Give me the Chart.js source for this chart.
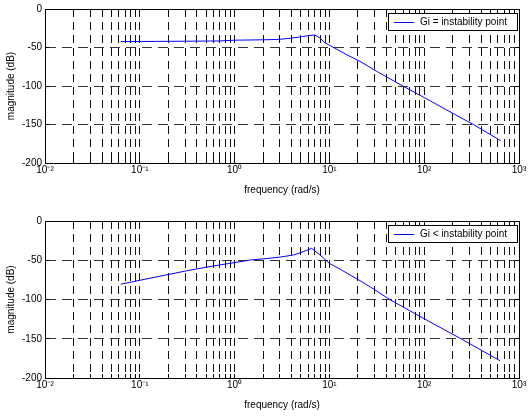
<!DOCTYPE html>
<html lang="en">
<head>
<meta charset="UTF-8">
<title>Bode magnitude</title>
<script src="https://cdn.jsdelivr.net/npm/chart.js"></script>
<style>
  body { margin: 0; padding: 0; background: #fff; }
  canvas { display: block; }
</style>
</head>
<body>
<canvas id="chartTop" width="529" height="208"></canvas>
<canvas id="chartBottom" width="529" height="209"></canvas>
<script>
// top plot: Gi = instability point
const freqTop = [0.063, 0.2, 0.7, 1, 2, 2.9, 3.9, 5.1, 6, 7, 8, 9, 10, 15, 21, 31.6, 55.6, 107, 211, 330, 640];
const magTop  = [-42.3, -42, -41.5, -40.5, -40, -39.5, -38, -36, -34.5, -33.8, -38, -44, -47, -59, -68, -81, -98, -117, -137, -150, -171];

// bottom plot: Gi < instability point
const freqBottom = [0.063, 0.1, 0.31, 0.55, 1, 1.46, 2.1, 3, 4.2, 5.3, 6.5, 7.9, 10, 13, 21, 27, 44, 98, 240, 630];
const magBottom  = [-80.5, -75.5, -63.5, -58, -53, -49.7, -48, -46, -43.3, -39, -34.8, -43, -54, -61.5, -76, -84, -100.5, -124, -149.5, -178];

const labelTop = 'Gi = instability point';
const labelBottom = 'Gi < instability point';

const xDecades = [0.01, 0.1, 1, 10, 100, 1000];
const xTickLabels = ['10⁻²', '10⁻¹', '10⁰', '10¹', '10²', '10³'];
const yTicks = [0, -50, -100, -150, -200];

// grid at every 1..9 of each decade, like matlab's log grid
let xGrid = [];
for (let i = 0; i < xDecades.length - 1; i++) {
    for (let k = 1; k < 10; k++) xGrid.push(k * xDecades[i]);
}
xGrid.push(xDecades[xDecades.length - 1]);

function decadeLabel(v) {
    for (let i = 0; i < xDecades.length; i++) {
        if (Math.abs(Math.log10(v) - Math.log10(xDecades[i])) < 1e-6) return xTickLabels[i];
    }
    return '';
}

const frame = {
    id: 'frame',
    afterDraw(chart) {
        const ctx = chart.ctx;
        const a = chart.chartArea;
        const sx = chart.scales.x, sy = chart.scales.y;
        const al = p => Math.round(p - 0.5) + 0.5;
        ctx.save();
        ctx.setLineDash([]);
        ctx.strokeStyle = '#000';
        ctx.lineWidth = 1;
        // inner tick marks
        ctx.beginPath();
        sx.ticks.forEach(t => {
            const px = al(sx.getPixelForValue(t.value));
            ctx.moveTo(px, a.bottom); ctx.lineTo(px, a.bottom - 4);
            ctx.moveTo(px, a.top); ctx.lineTo(px, a.top + 4);
        });
        sy.ticks.forEach(t => {
            const py = al(sy.getPixelForValue(t.value));
            ctx.moveTo(a.left, py); ctx.lineTo(a.left + 4, py);
            ctx.moveTo(a.right, py); ctx.lineTo(a.right - 4, py);
        });
        ctx.stroke();
        ctx.strokeRect(al(a.left), al(a.top), Math.round(a.right - a.left), Math.round(a.bottom - a.top));

        // legend box in the upper right corner
        const ds = chart.data.datasets[0];
        ctx.font = '10px "Liberation Sans", Arial, sans-serif';
        const w = ctx.measureText(ds.label).width + 42;
        const h = 17;
        const bx = Math.round(a.right - 2 - w), by = Math.round(a.top + 4);
        ctx.fillStyle = '#fff';
        ctx.fillRect(bx, by, w, h);
        ctx.strokeRect(bx + 0.5, by + 0.5, Math.round(w), h);
        ctx.strokeStyle = ds.borderColor;
        ctx.beginPath();
        ctx.moveTo(bx + 6, by + 9.5);
        ctx.lineTo(bx + 26, by + 9.5);
        ctx.stroke();
        ctx.fillStyle = '#000';
        ctx.textBaseline = 'middle';
        ctx.fillText(ds.label, bx + 32, by + 9);
        ctx.restore();
    }
};

Chart.defaults.font.family = '"Liberation Sans", Arial, sans-serif';
Chart.defaults.font.size = 10;
Chart.defaults.color = '#000';

function makeChart(id, freqs, mags, label, padTop, axisHeight, titlePad) {
    const points = freqs.map((f, i) => ({ x: f, y: mags[i] }));
    return new Chart(document.getElementById(id), {
        type: 'line',
        data: {
            datasets: [{
                label: label,
                data: points,
                borderColor: '#0000ff',
                borderWidth: 1,
                pointRadius: 0,
                tension: 0,
                fill: false
            }]
        },
        options: {
            responsive: false,
            animation: false,
            layout: { padding: { top: padTop, right: 10, left: 0, bottom: 0 } },
            plugins: { legend: { display: false }, tooltip: { enabled: false } },
            scales: {
                x: {
                    type: 'logarithmic',
                    min: 0.01,
                    max: 1000,
                    afterBuildTicks: s => { s.ticks = xGrid.map(v => ({ value: v })); },
                    afterFit: s => { s.height = axisHeight; },
                    ticks: { autoSkip: false, maxRotation: 0, padding: 1, callback: v => decadeLabel(v) },
                    grid: { color: '#111', lineWidth: 1, drawTicks: false },
                    border: { color: '#000', width: 1, dash: [8, 5] },
                    title: { display: true, text: 'frequency (rad/s)', padding: { top: 0, bottom: titlePad } }
                },
                y: {
                    min: -200,
                    max: 0,
                    afterBuildTicks: s => { s.ticks = yTicks.map(v => ({ value: v })); },
                    afterFit: s => { s.width = 45; },
                    ticks: { padding: 3 },
                    grid: { color: '#333', lineWidth: 1, drawTicks: false },
                    border: { color: '#000', width: 1, dash: [10, 6] },
                    title: { display: true, text: 'magnitude (dB)', padding: { top: 5, bottom: 0 } }
                }
            }
        },
        plugins: [frame]
    });
}

makeChart('chartTop', freqTop, magTop, labelTop, 5, 45, 12);
makeChart('chartBottom', freqBottom, magBottom, labelBottom, 13, 39, 6);
</script>
</body>
</html>
